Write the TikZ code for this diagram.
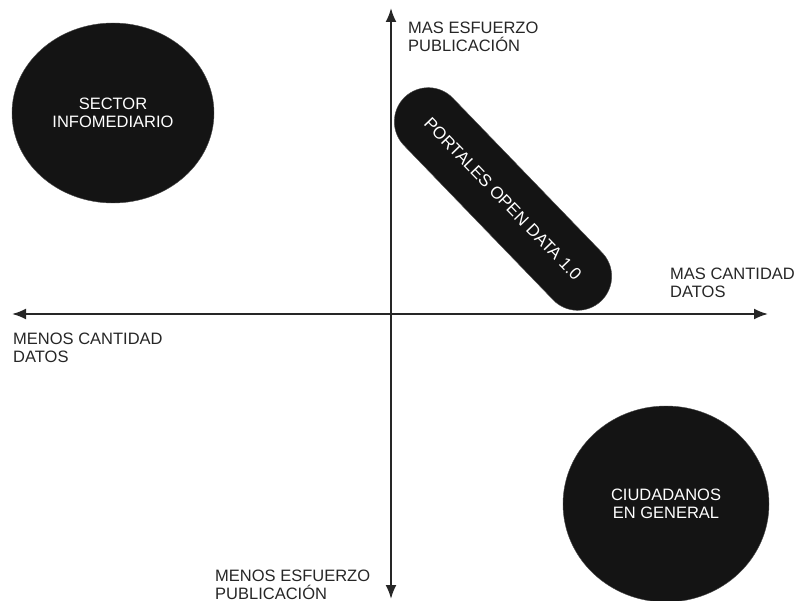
\documentclass[tikz,border=0pt]{standalone}
\usepackage{fontspec}
\setmainfont{Liberation Sans}
\usetikzlibrary{arrows.meta,shapes.geometric,shapes.misc,positioning}

\begin{document}
\begin{tikzpicture}
    [x=1pt, y=-1pt, font=\fontsize{16.5}{18}\selectfont,
    % STYLES
    % The axis style is used to draw both axes of the map
    axis/.style={line width=2pt, black!85, {Latex[length=14pt,width=11pt]}-{Latex[length=14pt,width=11pt]}},
    % The label style is used for the texts at the end of each axis
    label/.style={anchor=north west, inner sep=0pt, align=left, text=black!85},
    % The blob style is used to draw the groups of actors
    blob/.style={ellipse, fill=black!92, draw=black!70, inner sep=0pt, align=center, text=white},
    % The pill style is used for the open data portals
    pill/.style={rounded rectangle, fill=black!92, draw=black!70, inner sep=0pt, text=white, font=\fontsize{17}{18}\selectfont}]

    \useasboundingbox (0,0) rectangle (800,601);

    % Axes
    \coordinate (top) at (391,8);
    \coordinate (bottom) at (391,599);
    \coordinate (left) at (12,314);
    \coordinate (right) at (768,314);
    \draw[axis] (bottom) -- (top);
    \draw[axis] (left) -- (right);

    % Axis labels
    \node [label] (masesf) at (408,22) {MAS ESFUERZO\\PUBLICACIÓN};
    \node [label] (menosesf) at (215,570) {MENOS ESFUERZO\\PUBLICACIÓN};
    \node [label] (mascant) at (670,268) {MAS CANTIDAD\\DATOS};
    \node [label] (menoscant) at (13,333) {MENOS CANTIDAD\\DATOS};

    % Actors
    \node [blob, minimum width=202, minimum height=180] (sector) at (113,113) {SECTOR\\INFOMEDIARIO};
    \node [blob, minimum width=206, minimum height=196] (ciudadanos) at (666,504) {CIUDADANOS\\EN GENERAL};
    \node [pill, rotate=-46, minimum width=283, minimum height=68] (portales) at (503,199) {PORTALES OPEN DATA 1.0};
\end{tikzpicture}
\end{document}
